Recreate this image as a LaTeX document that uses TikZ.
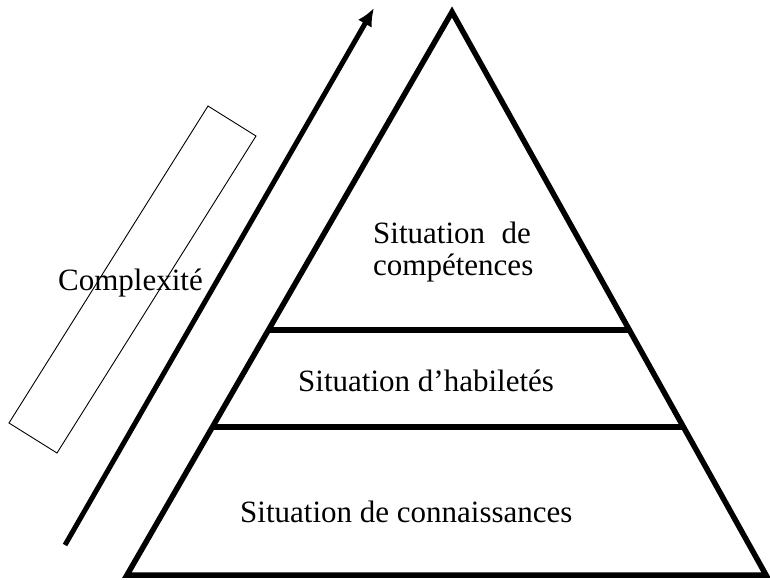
\documentclass[tikz,border=0pt]{standalone}
\usepackage{fontspec}
\setmainfont{Liberation Serif}
\usetikzlibrary{arrows.meta}
\begin{document}
\begin{tikzpicture}[x=1pt,y=-1pt,
  thick line/.style={line width=5.5pt},
  lbl/.style={inner sep=0pt,font=\fontsize{31}{35}\selectfont}]
\useasboundingbox (0,0) rectangle (770,579);
% pyramid
\coordinate (apex) at (452,12);
\coordinate (bl) at (127,575);
\coordinate (br) at (766,575);
\draw[thick line,line join=miter] (apex) -- (bl) -- (br) -- cycle;
\coordinate (u1) at (268,330);
\coordinate (u2) at (630,330);
\coordinate (l1) at (212,427);
\coordinate (l2) at (685,427);
\draw[thick line] (u1) -- (u2);
\draw[thick line] (l1) -- (l2);
% arrow
\coordinate (a0) at (65,545);
\coordinate (a1) at (374,8);
\draw[line width=5pt,-{Latex[length=18pt,width=16pt]}] (a0) -- (a1);
% rotated box
\coordinate (r1) at (208,106);
\coordinate (r2) at (256,136);
\coordinate (r3) at (57,453);
\coordinate (r4) at (9,423);
\draw[line width=0.9pt] (r1) -- (r2) -- (r3) -- (r4) -- cycle;
% labels
\node[lbl,anchor=base west] (cx) at (58,290) {Complexité};
\node[lbl,anchor=base west] (s1) at (373,243) {Situation};
\node[lbl,anchor=base east] (s2) at (531,243) {de};
\node[lbl,anchor=base west] (s3) at (373,275) {compétences};
\node[lbl,anchor=base west] (h) at (298,391) {Situation d’habiletés};
\node[lbl,anchor=base west] (c) at (240,522) {Situation de connaissances};
\end{tikzpicture}
\end{document}
